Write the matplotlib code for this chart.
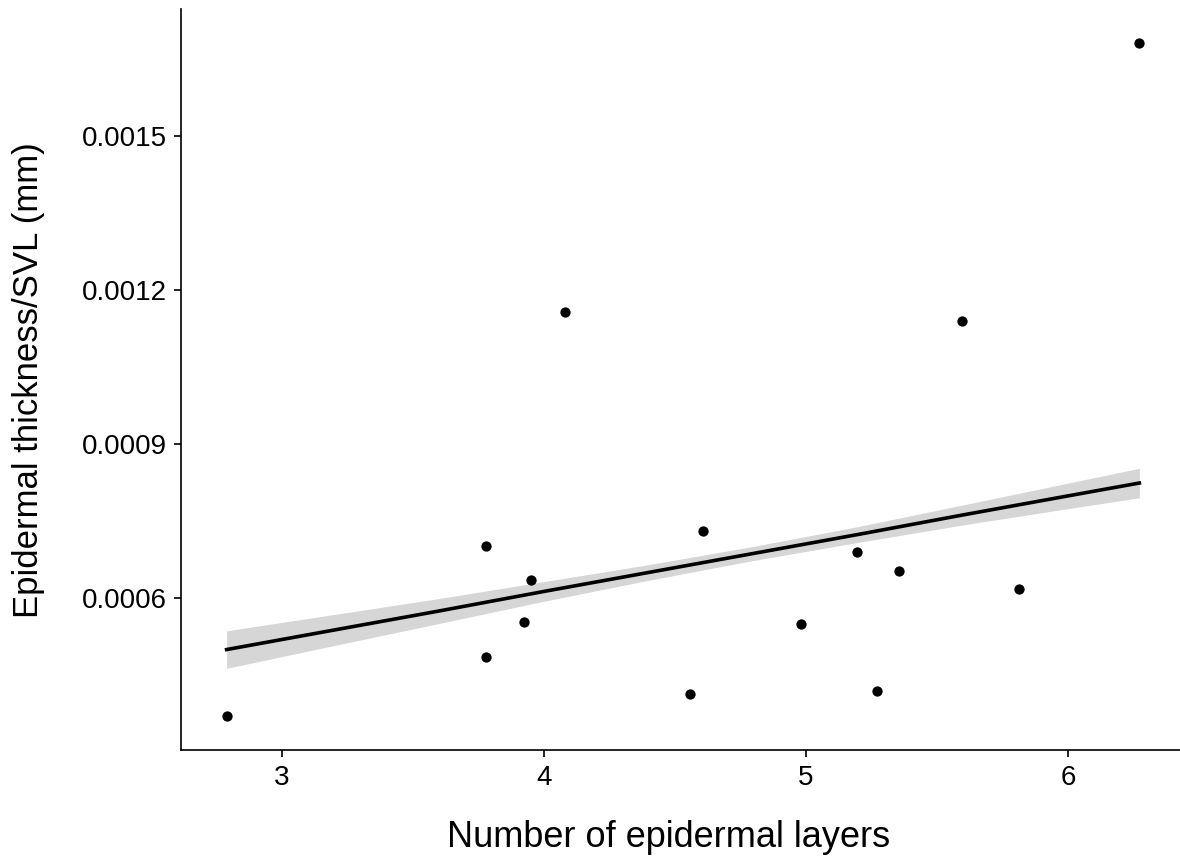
import numpy as np
import matplotlib
matplotlib.use("Agg")
import matplotlib.pyplot as plt

plt.rcParams['font.family'] = ['Liberation Sans', 'DejaVu Sans']

# observed points
layers = [2.79, 3.778, 3.951, 3.923, 3.778, 4.609, 4.557, 5.193,
          5.355, 5.814, 4.982, 5.271, 6.272, 4.082, 5.594]
thick = [0.000370, 0.000702, 0.000635, 0.000554, 0.000485, 0.000730,
         0.000414, 0.000690, 0.000653, 0.000618, 0.000549, 0.000420,
         0.001680, 0.001156, 0.001139]

# fitted line and its band
fit_x = [2.79, 3.2, 3.6, 4.0, 4.4, 4.8, 5.2, 5.6, 6.0, 6.272]
fit_y = [0.000500, 0.000538, 0.000575, 0.000613, 0.000650, 0.000687,
         0.000724, 0.000762, 0.000799, 0.000824]
fit_half = [3.65e-5, 3.02e-5, 2.43e-5, 1.91e-5, 1.52e-5, 1.37e-5,
            1.54e-5, 1.95e-5, 2.48e-5, 2.87e-5]

xticks = [3, 4, 5, 6]
yticks = [0.0006, 0.0009, 0.0012, 0.0015]
ytick_labels = ['0.0006', '0.0009', '0.0012', '0.0015']

fig = plt.figure(figsize=(11.8, 8.63), dpi=100)
ax = fig.add_axes([0.1534, 0.1309, 0.8508, 0.8582])

lo = np.array(fit_y) - np.array(fit_half)
hi = np.array(fit_y) + np.array(fit_half)
ax.fill_between(fit_x, lo, hi, color='#d6d6d6', lw=0, zorder=1)
ax.plot(fit_x, fit_y, color='black', lw=2.6, zorder=2)
ax.scatter(layers, thick, s=55, color='black', lw=0, zorder=3)

ax.set_xlim(2.616, 6.446)
ax.set_ylim(0.0003045, 0.0017455)
ax.set_xticks(xticks)
ax.set_yticks(yticks)
ax.set_yticklabels(ytick_labels)

for s in ['top', 'right']:
    ax.spines[s].set_visible(False)
for s in ['left', 'bottom']:
    ax.spines[s].set_linewidth(1.2)
    ax.spines[s].set_color('black')

ax.tick_params(axis='both', length=5, width=1.2, labelsize=20, colors='black')
ax.tick_params(axis='x', pad=6)
ax.tick_params(axis='y', pad=5)

ax.set_xlabel('Number of epidermal layers', fontsize=26)
ax.set_ylabel('Epidermal thickness/SVL (mm)', fontsize=25)
ax.xaxis.set_label_coords(0.486, -0.095)
ax.yaxis.set_label_coords(-0.135, 0.5)

fig.savefig('out.png', dpi=100)
